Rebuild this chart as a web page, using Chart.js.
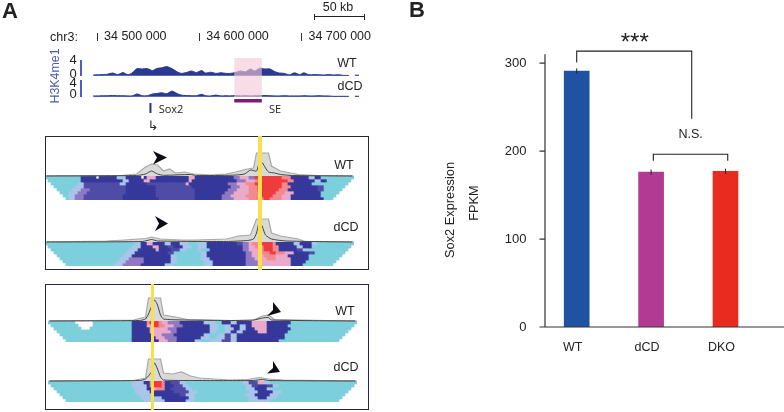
<!DOCTYPE html>
<html><head><meta charset="utf-8">
<script src="https://cdn.jsdelivr.net/npm/chart.js@4/dist/chart.umd.min.js"></script>
<style>
html,body{margin:0;padding:0;background:#fff;overflow:hidden}
#root{position:relative;width:784px;height:412px;overflow:hidden;font-family:"Liberation Sans",Arial,sans-serif;color:#222;filter:blur(.35px)}
canvas{position:absolute}
.t{position:absolute;transform:translate(-50%,-50%);white-space:nowrap;line-height:1}
.box{position:absolute;box-sizing:border-box}
.heat{filter:blur(.7px)}
</style></head><body><div id="root"></div>
<script>
// Panel B
const categories=['WT','dCD','DKO'];
const fpkmValues=[291,176,177];
const fpkmErrors=[3,3,3];
const barColors=['#1f52a3','#b23a92','#e82a1f'];
const yTicks=[0,100,200,300];
// Panel A tracks (kb on chr3)
const trackPos=[34496,34501,34506,34510,34515,34520,34525,34530,34534,34539,34544,34549,34554,34558,34563,34568,34573,34578,34582,34587,34592,34597,34602,34606,34611,34616,34621,34626,34630,34635,34640,34645,34650,34654,34659,34664,34669,34674,34678,34683,34688,34693,34698,34702,34707,34712,34717,34722,34726,34731,34736,34741,34746,34749,34752,34756];
const trackWT=[.2,.25,.3,.4,.7,.3,.8,.25,.7,1.8,1.7,1.8,1.3,1.8,2,2.3,1.8,1,.6,.8,1.2,.8,1.3,.7,.9,.6,.75,.6,.6,.8,1.2,1,1.7,1.2,1.9,1.7,1.7,1,.7,.6,.25,.75,.3,.75,.25,.3,.25,.2,.3,.2,.25,.1,.1,null,.15,.15];
const trackDCD=[.2,.2,.25,.25,.3,.25,.25,.2,.2,.7,.25,.25,.7,.8,1,.75,1.4,.8,.4,.3,.25,.25,.6,.25,.2,.4,.2,.25,.2,.3,.2,.25,.2,.25,.25,.3,.25,.2,.2,.25,.2,.2,.2,.25,.2,.2,.25,.2,.2,.1,.1,.1,.1,null,.12,.12];
const seRegion=[34634,34661];
const sox2Pos=34552;
// Contact maps: run-length colour rows, top row first
const heatTopWT=[
"12c 5b 1w 6b 3l 5b 1w 1b 3s 11b 2s 13b 2p 3s 2p 9r 3o 6b 2l 2b 11c",
"12c 14b 2l 5b 2s 13b 1s 15b 3p 3s 2o 9r 2o 7b 2l 2b 10c",
"11c 2l 12d 2l 7b 13d 1s 13b 3p 3s 3o 9r 2o 8b 14c",
"10c 3l 14d 10b 12d 13b 3p 3s 3o 8r 3o 9b 2d 10c",
"9c 3l 3p 12d 10b 13d 11b 3p 4s 3o 7r 3o 10b 2d 10c",
"8c 3l 3p 13d 10b 13d 10b 3p 5s 4o 5r 3o 3s 9b 11c",
"8c 2l 3p 13d 11b 13d 9b 3p 5s 5o 4r 3o 3s 10b 11c",
"8c 2l 3p 13d 12b 12d 9b 4p 5s 5o 2r 4o 3s 11b 10c"];
const heatTopDCD=[
"30c 2l 2b 2s 4b 2l 3b 3l 3c 3l 10b 2d 2p 1s 3o 4r 1o 6b 2l 4b 2l 12c",
"29c 3l 4b 2s 3b 2d 3b 3l 2c 3l 12b 2p 2s 3o 3r 2o 6b 2l 3b 14c",
"28c 3l 6b 1s 4b 3d 2l 4c 1l 3c 11b 2p 3s 2o 3r 2o 6b 2d 2l 15c",
"27c 3l 11b 2d 9c 2l 13b 2p 3s 3o 2r 3o 3s 5b 2d 13c",
"26c 3l 13b 2l 8c 2l 13b 2p 4s 4o 4s 7b 15c",
"25c 3l 5p 9b 2l 8c 3l 12b 3p 4s 3o 5s 6b 15c",
"24c 3l 6p 9b 2l 9c 3l 11b 4p 11s 5b 16c",
"23c 3l 6p 8b 3l 10c 3l 11b 4p 11s 4b 17c"];
const heatBottomWT=[
"9c 6w 13c 5b 1o 3r 1o 2s 4p 8b 4l 2c 3b 2l 3b 2b 5s 8b 22c",
"10c 5w 13c 5b 2s 2r 2o 3s 3p 9b 3l 2c 2l 3b 2l 2b 5s 7b 23c",
"11c 3w 14c 6b 6s 3p 11b 3l 2c 3l 2b 2l 3b 4s 8b 22c",
"28c 6b 7s 2p 11b 2l 3c 2l 2b 2l 5b 3s 7b 23c",
"28c 7b 3s 4p 10b 2l 3c 2l 2d 2l 16b 24c",
"28c 8b 3s 4p 8b 3l 2c 3l 2d 2l 16b 24c",
"28c 9b 3s 3p 6b 2l 3c 4l 3d 2l 14b 26c"];
const heatBottomDCD=[
"28c 4l 2b 1o 3r 1o 2b 3d 2l 19c 2l 3d 2s 2l 29c",
"28c 5l 1b 1o 3r 1o 3b 3d 2l 19c 2l 2d 3b 2d 2l 26c",
"29c 4l 2b 1s 3o 2b 5d 2l 18c 3l 4b 2l 28c",
"29c 5l 8b 3d 2d 3l 17c 3l 5b 3l 25c",
"30c 5l 9b 2d 3l 17c 3l 5b 3l 26c",
"31c 4l 3l 9b 2l 18c 3l 3b 3l 27c",
"32c 5l 2l 7b 3l 18c 4l 3l 29c"];
// Signal above each map: [bin, value]
const bandTopWT=[[0,0],[25,.5],[30,2],[33,9],[35,12],[37,11],[39,5],[41,7],[43,3],[46,4],[49,2],[55,1],[60,2],[63,4],[67,7],[69,8],[70,23],[74,23],[75,10],[78,5],[84,1.5],[90,.5],[102,0]];
const lineTopWT=[[0,0],[30,.5],[33,2],[35,5],[37,2],[39,.7],[48,1.5],[50,.5],[62,.8],[66,2],[68,6],[70,5],[71,14],[72,13],[73,8],[74,4],[76,3],[78,1.5],[82,.5],[102,0]];
const bandTopDCD=[[0,0],[20,1],[26,2],[33,3.5],[35,5],[38,3],[45,2],[50,2],[60,3],[64,6],[68,7],[70,23],[74,23],[75,9],[78,6],[84,3],[86,.5],[102,0]];
const lineTopDCD=[[0,0],[32,.5],[35,2.5],[37,1],[60,.5],[67,1.5],[69,3],[70,9],[71,21],[72,15],[73,7],[75,3],[80,1],[102,0]];
const bandBottomWT=[[0,0],[28,1],[32,4],[33,23],[37,23],[38,6],[42,4],[46,1.5],[60,.5],[68,1],[71,5],[73,6],[75,1.5],[102,0]];
const lineBottomWT=[[0,0],[30,.5],[32,2],[33,7],[35,21],[36,16],[37,6],[38,2],[45,1],[62,.5],[68,1],[71,3],[73,3.5],[74,1],[102,0]];
const bandBottomDCD=[[0,0],[28,.5],[32,3],[33,22],[37,22],[38,8],[41,7],[44,9],[47,5],[50,3],[60,1],[66,1.5],[70,3.5],[73,2],[78,1],[102,0]];
const lineBottomDCD=[[0,0],[30,.5],[32,2],[34,9],[35,18],[36,12],[37,4],[38,1],[48,.5],[68,.5],[71,1.5],[73,.5],[102,0]];
const palette={c:'#7dcfdc',l:'#a9c6ea',b:'#36389a',d:'#4f4ca8',p:'#8f78c4',s:'#e9aacb',o:'#f28a8e',r:'#ee3c3f'};

const root=document.getElementById('root');
function mk(l,t,w,h,cls){const c=document.createElement('canvas');c.width=w;c.height=h;c.style.cssText=`left:${l}px;top:${t}px;width:${w}px;height:${h}px`;if(cls)c.className=cls;root.appendChild(c);return c;}
function txt(s,x,y,size,o={}){const d=document.createElement('div');d.className='t';d.textContent=s;d.style.left=x+'px';d.style.top=y+'px';d.style.fontSize=size+'px';if(o.bold)d.style.fontWeight='bold';if(o.color)d.style.color=o.color;if(o.font)d.style.fontFamily=o.font;if(o.rot)d.style.transform=`translate(-50%,-50%) rotate(${o.rot}deg)`;root.appendChild(d);}
function rect(x,y,w,h,css){const d=document.createElement('div');d.className='box';d.style.cssText+=`left:${x}px;top:${y}px;width:${w}px;height:${h}px;${css}`;root.appendChild(d);}

// Tracks chart
new Chart(mk(0,0,784,130),{type:'line',
 data:{datasets:[
  {label:'WT',yAxisID:'yW',data:trackPos.map((x,i)=>({x,y:trackWT[i]})),fill:{target:{value:0}},backgroundColor:'#2a3a93',borderColor:'#2a3a93',borderWidth:1,pointRadius:0,tension:.25,spanGaps:false},
  {label:'dCD',yAxisID:'yD',data:trackPos.map((x,i)=>({x,y:trackDCD[i]})),fill:{target:{value:0}},backgroundColor:'#2a3a93',borderColor:'#2a3a93',borderWidth:1,pointRadius:0,tension:.25,spanGaps:false}]},
 options:{responsive:false,animation:false,devicePixelRatio:1,
  layout:{padding:{left:93,right:423,top:0,bottom:25}},
  plugins:{legend:{display:false},tooltip:{enabled:false}},
  scales:{
   x:{type:'linear',position:'top',min:34495.8,max:34758,afterFit:s=>{s.height=41},border:{display:false},
      afterBuildTicks:s=>{s.ticks=[34500,34600,34700].map(value=>({value}))},
      grid:{drawOnChartArea:false,tickLength:8,color:'#333'},
      ticks:{autoSkip:false,maxRotation:0,padding:-11,labelOffset:38,color:'#222',font:{family:'"Liberation Sans"',size:12.5},callback:v=>`${Math.floor(v/1000)} ${String(v%1000).padStart(3,'0')} 000`}},
   yW:{display:false,min:-7.3,max:8.7},
   yD:{display:false,min:-2.07,max:13.93}}},
 plugins:[{id:'genes',afterDatasetsDraw(c){const x=c.scales.x,g=c.ctx,a=x.getPixelForValue(seRegion[0]),b=x.getPixelForValue(seRegion[1]);g.save();
   g.fillStyle='rgba(246,200,215,.62)';g.fillRect(a,58,b-a,39);
   g.fillStyle='#7b1c75';g.fillRect(a,99,b-a,3.5);
   g.fillStyle='#26308e';g.fillRect(x.getPixelForValue(sox2Pos)-1,103,2,10);g.restore();}}]});

// Contact maps
function expand(row){const out=[];row.split(' ').forEach(r=>{const n=parseInt(r),k=r.slice(-1);for(let i=0;i<n;i++)out.push(k);});return out;}
const COLS=103;
function strip(left,baseTop,rows,band,line){
 const up=28,down=rows.length*3,labels=Array.from({length:COLS},(_,i)=>String(i));
 const ds=[];
 rows.forEach((row,r)=>{const cells=expand(row);
  ds.push({type:'bar',order:3,grouped:false,barPercentage:1,categoryPercentage:1,
   data:labels.map((_,i)=>{const k=cells[i]||'c';return (i<r||i>=COLS-r||k==='w')?null:[-(r+1)*3,-r*3];}),
   backgroundColor:labels.map((_,i)=>palette[cells[i]||'c']||'#fff')});});
 ds.push({type:'line',order:2,data:band.map(p=>({x:String(p[0]),y:p[1]})),fill:{target:{value:0}},backgroundColor:'#d9d9d9',borderColor:'#a8a8a8',borderWidth:1.2,pointRadius:0,tension:0});
 ds.push({type:'line',order:1,data:line.map(p=>({x:String(p[0]),y:p[1]})),fill:false,borderColor:'#444',borderWidth:1,pointRadius:0,tension:.2});
 new Chart(mk(left,baseTop-up,COLS*3,up+down,'heat'),{type:'bar',data:{labels,datasets:ds},
  options:{responsive:false,animation:false,devicePixelRatio:1,layout:{padding:0},
   plugins:{legend:{display:false},tooltip:{enabled:false}},
   scales:{x:{display:false,offset:true},y:{display:false,min:-down,max:up}}}});
}
strip(45,176,heatTopWT,bandTopWT,lineTopWT);
strip(45,242,heatTopDCD,bandTopDCD,lineTopDCD);
strip(48,321,heatBottomWT,bandBottomWT,lineBottomWT);
strip(48,381,heatBottomDCD,bandBottomDCD,lineBottomDCD);

// Frames and yellow guides
rect(44.5,136,324.5,134,'border:1.5px solid #2a2a2a');
rect(44.5,284,324.5,126,'border:1.5px solid #26264a');
rect(258.3,136,3.6,134,'background:#f8e04a');
rect(150.6,284,3.6,126,'background:#f8e04a');
rect(80,60,1.5,16,'background:#4c5fc0');rect(80,80,1.5,17,'background:#4c5fc0');
rect(314,16,50,1.2,'background:#222');rect(314,14,1,6,'background:#222');rect(364,14,1,6,'background:#222');

// Arrowheads
const ns='http://www.w3.org/2000/svg',svg=document.createElementNS(ns,'svg');
svg.setAttribute('width',784);svg.setAttribute('height',412);svg.style.cssText='position:absolute;left:0;top:0';
[[[153,151],[167,157.5],[153,164.5],[157,157.5]],[[155,216],[168,223.5],[155,231],[159,223.5]],[[273,302],[281,312],[267,316],[273,310]],[[273,361],[280,372],[267,373.5],[273,368]]]
 .forEach(p=>{const e=document.createElementNS(ns,'polygon');e.setAttribute('points',p.map(q=>q.join(',')).join(' '));e.setAttribute('fill','#0c0c14');svg.appendChild(e);});
root.appendChild(svg);

// Panel B
const barPanel={id:'barPanel',afterDatasetsDraw(c){const g=c.ctx,x=c.scales.x,y=c.scales.y,ax=c.chartArea.left+5.5,by=y.getPixelForValue(0);
 g.save();g.strokeStyle='#333';g.lineWidth=1.2;g.beginPath();
 g.moveTo(ax,c.chartArea.top);g.lineTo(ax,by);g.moveTo(c.chartArea.left,by);g.lineTo(c.width,by);
 yTicks.forEach(v=>{const p=y.getPixelForValue(v);g.moveTo(c.chartArea.left,p);g.lineTo(ax,p);});g.stroke();
 g.strokeStyle='#222';g.lineWidth=1;g.beginPath();
 fpkmValues.forEach((v,i)=>{const px=x.getPixelForValue(i);g.moveTo(px,y.getPixelForValue(v-fpkmErrors[i]));g.lineTo(px,y.getPixelForValue(v+fpkmErrors[i]));});
 g.stroke();
 g.lineWidth=1.1;g.beginPath();
 g.moveTo(x.getPixelForValue(0),y.getPixelForValue(300.6));g.lineTo(x.getPixelForValue(0),y.getPixelForValue(313.6));g.lineTo(x.getPixelForValue(1.546),y.getPixelForValue(313.6));g.lineTo(x.getPixelForValue(1.546),y.getPixelForValue(236.6));
 g.moveTo(x.getPixelForValue(1.03),y.getPixelForValue(189));g.lineTo(x.getPixelForValue(1.03),y.getPixelForValue(196.4));g.lineTo(x.getPixelForValue(2.03),y.getPixelForValue(196.4));g.lineTo(x.getPixelForValue(2.03),y.getPixelForValue(189));
 g.stroke();
 g.fillStyle='#222';g.textAlign='center';g.textBaseline='middle';
 g.font='12.5px "Liberation Sans"';g.fillText('N.S.',x.getPixelForValue(1.53),y.getPixelForValue(219));
 g.font='24px "Liberation Sans"';g.fillText('***',x.getPixelForValue(.78),y.getPixelForValue(323)+1);
 g.restore();}};
new Chart(mk(400,0,384,412),{type:'bar',
 data:{labels:categories,datasets:[{label:'Sox2 Expression FPKM',data:fpkmValues,backgroundColor:barColors,barThickness:25}]},
 options:{responsive:false,animation:false,devicePixelRatio:1,
  layout:{padding:{left:0,right:21.3,top:54.3,bottom:0}},
  plugins:{legend:{display:false},tooltip:{enabled:false}},
  scales:{
   x:{afterFit:s=>{s.height=85},grid:{display:false,drawTicks:false},border:{display:false},
      ticks:{padding:13,labelOffset:-4,color:'#222',font:{family:'"Liberation Sans"',size:12.5}}},
   y:{min:0,max:310,afterFit:s=>{s.width=139.5},grid:{display:false,drawTicks:false},border:{display:false},
      afterBuildTicks:s=>{s.ticks=yTicks.map(value=>({value}))},
      ticks:{padding:13,color:'#222',font:{family:'"Liberation Sans"',size:13}}}}},
 plugins:[barPanel]});

// Text
txt('A',10,11,22,{bold:true});txt('B',417,10,22,{bold:true});
txt('50 kb',338,7,12.5);txt('chr3:',64,37,12.5);
txt('H3K4me1',55,76,12.4,{rot:-90,color:'#4a5ab0'});
txt('4',73,59,13);txt('0',73,72.5,13);txt('4',73,82,13);txt('0',73,93,13);
txt('WT',347,63,12.5);txt('dCD',350,86,12.5);
txt('Sox2',171,108,11,{font:'"Open Sans"'});txt('SE',275,108,11,{font:'"Open Sans"'});
txt('↳',153,125,13,{font:'"DejaVu Sans"'});
txt('WT',344,165,12.5);txt('dCD',346,227,12.5);txt('WT',345,311,12.5);txt('dCD',346,367,12.5);
txt('Sox2 Expression',450,210,12.8,{rot:-90,color:'#222'});txt('FPKM',474,203,12.8,{rot:-90,color:'#222'});
</script></body></html>
